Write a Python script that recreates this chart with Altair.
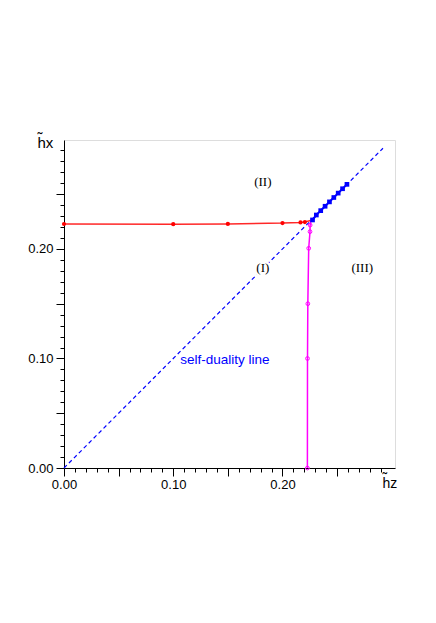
import altair as alt
import pandas as pd

# data
red_hz = [0.0, 0.10, 0.15, 0.20, 0.2165, 0.2205, 0.2275]
red_hx = [0.2228, 0.2226, 0.2229, 0.2236, 0.2242, 0.2246, 0.2265]

blue_hz = [0.2275, 0.231, 0.235, 0.239, 0.243, 0.247, 0.251, 0.255, 0.259]
blue_hx = [0.2265, 0.231, 0.235, 0.239, 0.243, 0.247, 0.251, 0.255, 0.259]

mag_hz = [0.2228, 0.2229, 0.2232, 0.2240, 0.2252, 0.2253, 0.2262]
mag_hx = [0.0, 0.100, 0.150, 0.2006, 0.2158, 0.2218, 0.2265]

diag_hz = [0.0, 0.292]
diag_hx = [0.0, 0.292]

region_labels = ["(II)", "(I)", "(III)"]
region_hz = [0.182, 0.182, 0.273]
region_hx = [0.2615, 0.183, 0.183]

note_text = ["self-duality line"]
note_hz = [0.1473]
note_hx = [0.0986]

tick_vals = [round(i * 0.01, 2) for i in range(0, 30)]

red = pd.DataFrame({"hz": red_hz, "hx": red_hx})
red_pts = red.iloc[:-1]
blue = pd.DataFrame({"hz": blue_hz, "hx": blue_hx})
mag = pd.DataFrame({"hz": mag_hz, "hx": mag_hx})
mag_pts = mag.iloc[:-1]
diag = pd.DataFrame({"hz": diag_hz, "hx": diag_hx})
regions = pd.DataFrame({"hz": region_hz, "hx": region_hx, "t": region_labels})
note = pd.DataFrame({"hz": note_hz, "hx": note_hx, "t": note_text})

major = "round(datum.value*100) % 5 == 0"
lab = "round(datum.value*100) % 10 == 0 ? format(datum.value, '.2f') : ''"

xaxis = alt.Axis(values=tick_vals, labelExpr=lab, labelOverlap=False, labelFlush=False,
                 tickSize={"condition": {"test": major, "value": 8}, "value": 4},
                 tickColor="black", domainColor="black", grid=False,
                 labelFont="Liberation Sans", labelFontSize=13, labelColor="black",
                 labelPadding=2,
                 title=["˜", "hz"], titleAngle=0, titleX=318, titleY=14, titleAlign="left",
                 titleBaseline="alphabetic", titleLineHeight=5, titleFont="Liberation Sans",
                 titleFontSize=14, titleFontWeight="normal", titleColor="black")
yaxis = alt.Axis(values=tick_vals, labelExpr=lab, labelOverlap=False, labelFlush=False,
                 tickSize={"condition": {"test": major, "value": 8}, "value": 4},
                 tickColor="black", domainColor="black", grid=False,
                 labelFont="Liberation Sans", labelFontSize=13, labelColor="black",
                 labelPadding=3,
                 title=["˜", "hx"], titleAngle=0, titleX=-27, titleY=2, titleAlign="left",
                 titleBaseline="alphabetic", titleLineHeight=5, titleFont="Liberation Sans",
                 titleFontSize=15, titleFontWeight="normal", titleColor="black")

xs = alt.Scale(domain=[0, 0.303], nice=False, zero=False)
ys = alt.Scale(domain=[0, 0.2995], nice=False, zero=False)
X = alt.X("hz:Q", scale=xs, axis=xaxis)
Y = alt.Y("hx:Q", scale=ys, axis=yaxis)

diag_l = alt.Chart(diag).mark_line(color="#0000ff", strokeWidth=1.2, strokeDash=[4, 3]).encode(x=X, y=Y)
red_l = alt.Chart(red).mark_line(color="#ff2828", strokeWidth=1.5).encode(x=X, y=Y)
red_p = alt.Chart(red_pts).mark_circle(color="#ff0000", size=18, opacity=1).encode(x=X, y=Y)
mag_l = alt.Chart(mag).mark_line(color="#ff00ff", strokeWidth=1.5).encode(x=X, y=Y)
mag_p = alt.Chart(mag_pts).mark_point(color="#ff00ff", size=14, strokeWidth=1, filled=False, opacity=1).encode(x=X, y=Y)
blue_l = alt.Chart(blue).mark_line(color="#0000ff", strokeWidth=2).encode(x=X, y=Y)
blue_p = alt.Chart(blue).mark_square(color="#0000ff", size=22, opacity=1).encode(x=X, y=Y)
reg_halo = alt.Chart(regions).mark_text(font="Liberation Serif", fontSize=13, color="white",
                                         stroke="white", strokeWidth=5).encode(x=X, y=Y, text="t:N")
reg_t = alt.Chart(regions).mark_text(font="Liberation Serif", fontSize=13, color="black").encode(x=X, y=Y, text="t:N")
note_t = alt.Chart(note).mark_text(font="Liberation Sans", fontSize=13.5, color="#0000ff").encode(x=X, y=Y, text="t:N")

chart = alt.layer(diag_l, red_l, mag_l, blue_l, red_p, mag_p, blue_p, reg_halo, reg_t, note_t).properties(
    width=331, height=328,
    autosize=alt.AutoSizeParams(type="none"),
    padding={"left": 56, "top": 132, "right": 33, "bottom": 147},
).configure_view(stroke="#333333", strokeWidth=1.2).configure(background="white")

chart.save("out.html", embed_options={"renderer": "svg", "actions": False})
